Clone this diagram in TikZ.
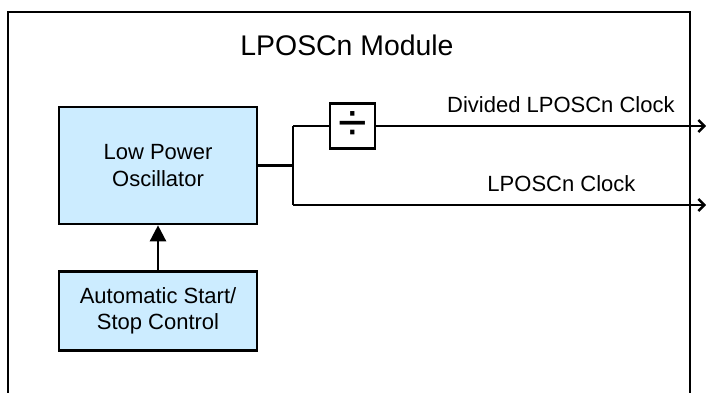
\documentclass[tikz,border=0pt]{standalone}
\usepackage{fontspec}
\setmainfont{Liberation Sans}
\usetikzlibrary{positioning,arrows.meta}
\definecolor{blockblue}{RGB}{204,236,255}

\begin{document}
\begin{tikzpicture}[x=0.5pt, y=-0.5pt, node distance=22.5pt,
    block/.style={draw, line width=1.3pt, fill=blockblue, minimum width=99pt,
      align=center, font=\fontsize{11}{13.2}\selectfont},
    wire/.style={line width=1.2pt},
    sig/.style={font=\fontsize{11}{13.2}\selectfont, above, inner sep=6pt, pos=0.56}]
  \useasboundingbox (0,0) rectangle (706,392);
  % module frame, open at the bottom
  \draw[line width=1.4pt] (8,400) -- (8,12) -- (690,12) -- (690,400);
  \node[font=\fontsize{14.2}{16}\selectfont] (title) at (347,45) {LPOSCn Module};

  \node[block, minimum height=58.5pt] (osc) at (158,165.5) {Low Power\\Oscillator};
  \node[block, minimum height=39.5pt] (ctrl) [below=of osc] {Automatic Start/\\Stop Control};
  \node[draw, line width=1.3pt, minimum size=22.5pt, inner sep=0pt,
    font=\fontsize{26}{26}\selectfont] (div) at (352.5,126) {÷};

  \coordinate (split) at (293,165.5);
  \coordinate (divout) at (706,126);
  \coordinate (clkout) at (706,205);

  \draw[wire, -{Triangle[length=8pt, width=8pt]}] (ctrl) -- (osc);
  \draw[wire] (osc.east) -- (split);
  \draw[wire] (split |- div) -- (split |- clkout);
  \draw[wire] (split |- div) -- (div.west);
  \draw[wire, -{Straight Barb[length=3pt]}] (div.east) -- node[sig]{Divided LPOSCn Clock} (divout);
  \draw[wire, -{Straight Barb[length=3pt]}] (split |- clkout) -- node[sig, pos=0.65]{LPOSCn Clock} (clkout);
\end{tikzpicture}
\end{document}
